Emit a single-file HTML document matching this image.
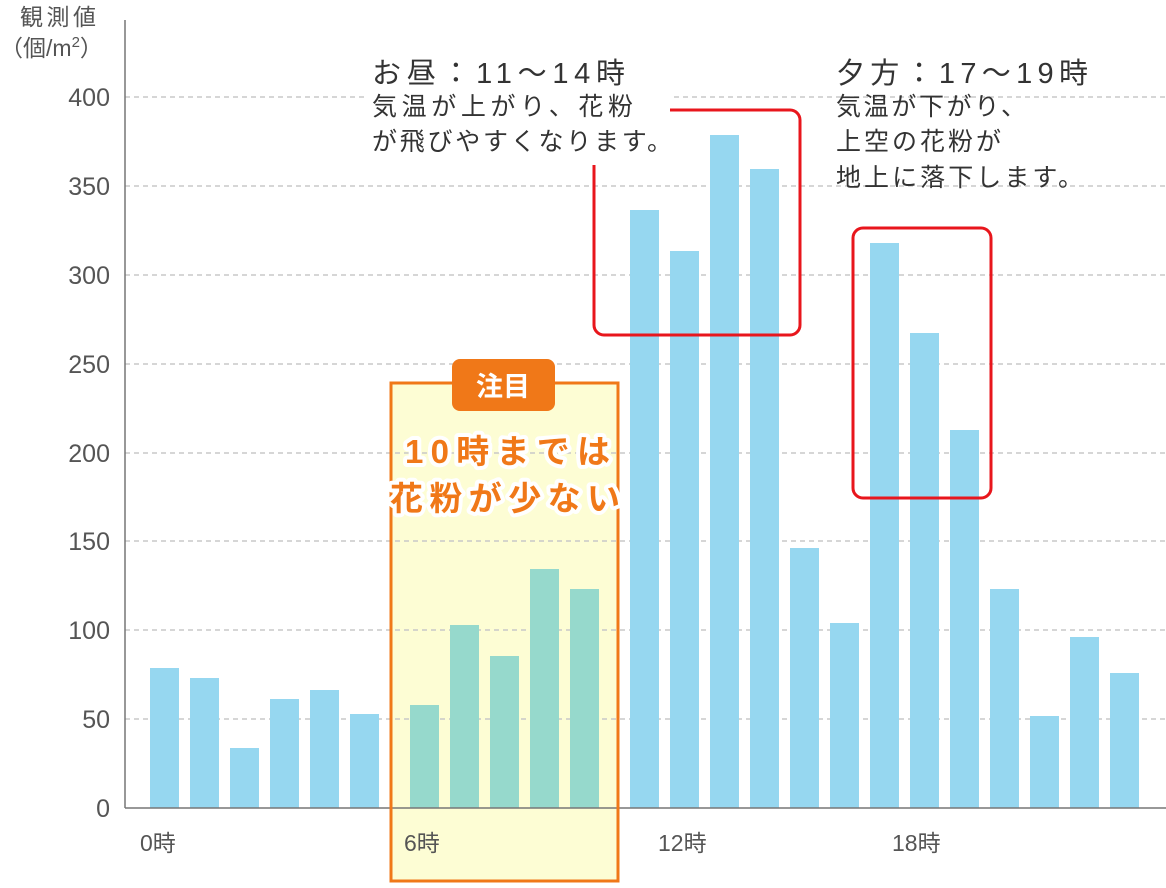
<!DOCTYPE html>
<html><head><meta charset="utf-8"><style>
body{margin:0;background:#fff}
svg text{font-family:"Liberation Sans","Noto Sans CJK JP",sans-serif}
</style></head><body>
<svg width="1166" height="883" viewBox="0 0 1166 883" xmlns="http://www.w3.org/2000/svg">
<rect width="1166" height="883" fill="#fff"/>
<rect x="391" y="383" width="227" height="498" fill="#fdfdd4"/>
<g stroke="#c8c8c8" stroke-width="1.5" stroke-dasharray="5,4">
<line x1="125" x2="1166" y1="97" y2="97"/><line x1="125" x2="1166" y1="186" y2="186"/>
<line x1="125" x2="1166" y1="275" y2="275"/><line x1="125" x2="1166" y1="364" y2="364"/>
<line x1="125" x2="1166" y1="453" y2="453"/><line x1="125" x2="1166" y1="541" y2="541"/>
<line x1="125" x2="1166" y1="630" y2="630"/><line x1="125" x2="1166" y1="719" y2="719"/>
</g>
<g fill="#96d7f0">
<rect x="150" y="668" width="29" height="140"/><rect x="190" y="678" width="29" height="130"/>
<rect x="230" y="748" width="29" height="60"/><rect x="270" y="699" width="29" height="109"/>
<rect x="310" y="690" width="29" height="118"/><rect x="350" y="714" width="29" height="94"/>
<rect x="630" y="210" width="29" height="598"/><rect x="670" y="251" width="29" height="557"/>
<rect x="710" y="135" width="29" height="673"/><rect x="750" y="169" width="29" height="639"/>
<rect x="790" y="548" width="29" height="260"/><rect x="830" y="623" width="29" height="185"/>
<rect x="870" y="243" width="29" height="565"/><rect x="910" y="333" width="29" height="475"/>
<rect x="950" y="430" width="29" height="378"/><rect x="990" y="589" width="29" height="219"/>
<rect x="1030" y="716" width="29" height="92"/><rect x="1070" y="637" width="29" height="171"/>
<rect x="1110" y="673" width="29" height="135"/>
</g>
<g fill="#96d9cc">
<rect x="410" y="705" width="29" height="103"/><rect x="450" y="625" width="29" height="183"/>
<rect x="490" y="656" width="29" height="152"/><rect x="530" y="569" width="29" height="239"/>
<rect x="570" y="589" width="29" height="219"/>
</g>
<line x1="125" y1="20" x2="125" y2="808" stroke="#777" stroke-width="1.5"/>
<line x1="125" y1="808" x2="1166" y2="808" stroke="#777" stroke-width="1.5"/>
<rect x="391" y="383" width="227" height="498" fill="none" stroke="#f07818" stroke-width="3"/>
<g fill="#555" font-size="25" text-anchor="end">
<text x="110" y="106">400</text><text x="110" y="195">350</text><text x="110" y="284">300</text>
<text x="110" y="373">250</text><text x="110" y="462">200</text><text x="110" y="550">150</text>
<text x="110" y="639">100</text><text x="110" y="728">50</text><text x="110" y="817">0</text>
</g>
<g fill="#555" font-size="23">
<text x="20" y="25" textLength="76">観測値</text><text x="0" y="56">（個/m<tspan font-size="15" dy="-9">2</tspan><tspan dy="9">）</tspan></text>
<text x="140" y="851">0時</text><text x="404" y="851">6時</text><text x="658" y="851">12時</text><text x="892" y="851">18時</text>
</g>
<rect x="594" y="110" width="206" height="225" rx="10" fill="none" stroke="#e8161c" stroke-width="3"/>
<rect x="853" y="228" width="138" height="270" rx="10" fill="none" stroke="#e8161c" stroke-width="3"/>
<rect x="365" y="90" width="305" height="72" fill="#fff"/>
<rect x="590" y="90" width="80" height="75" fill="#fff"/>
<g fill="#333">
<text x="372" y="83" font-size="29" textLength="253">お昼：11〜14時</text>
<text x="372" y="115" font-size="25" textLength="261">気温が上がり、花粉</text>
<text x="372" y="150" font-size="25" textLength="300">が飛びやすくなります。</text>
<text x="836" y="83" font-size="29" textLength="252">夕方：17〜19時</text>
<text x="836" y="115" font-size="25" textLength="190">気温が下がり、</text>
<text x="836" y="150" font-size="25" textLength="165">上空の花粉が</text>
<text x="836" y="186" font-size="25" textLength="247">地上に落下します。</text>
</g>
<rect x="452" y="359" width="103" height="52" rx="8" fill="#f07818"/>
<text x="503" y="396" font-size="27" font-weight="bold" fill="#fff" text-anchor="middle">注目</text>
<g font-size="33" font-weight="bold">
<text x="405" y="463" textLength="205" stroke="#fff" stroke-width="8" stroke-linejoin="round" fill="#fff">10時までは</text>
<text x="405" y="463" textLength="205" fill="#f07818">10時までは</text>
<text x="390" y="510" textLength="230" stroke="#fff" stroke-width="8" stroke-linejoin="round" fill="#fff">花粉が少ない</text>
<text x="390" y="510" textLength="230" fill="#f07818">花粉が少ない</text>
</g>
</svg>
</body></html>
